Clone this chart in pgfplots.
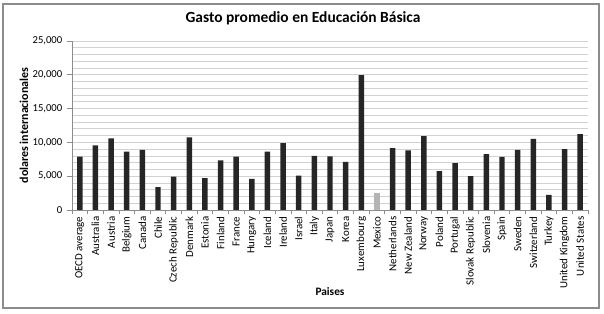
\documentclass[border=0pt]{standalone}
\usepackage{pgfplots}
\pgfplotsset{compat=1.18}
\usepackage{fontspec}
\setmainfont{Carlito}
\definecolor{barc}{HTML}{262626}
\definecolor{mex}{HTML}{B4B4B4}
\definecolor{gridc}{HTML}{D2D2D2}
\definecolor{framec}{HTML}{8C8C8C}
\definecolor{axc}{HTML}{8C8C8C}
\begin{document}
\begin{tikzpicture}
\useasboundingbox (-54pt,-78pt) rectangle (399pt,157.5pt);
\draw[framec, line width=1pt] (-51.75pt,-73.5pt) rectangle (395.25pt,154.5pt);
\begin{axis}[
  at={(0pt,0pt)}, anchor=south west,
  scale only axis, width=387pt, height=126.75pt,
  xmin=-0.5, xmax=32.5, ymin=0, ymax=25000,
  ybar, bar width=4.1pt,
  axis x line*=bottom, axis y line*=left,
  axis line style={draw=axc, line width=0.6pt},
  xtick={0,...,32},
  xticklabels={OECD average,Australia,Austria,Belgium,Canada,Chile,Czech Republic,Denmark,Estonia,Finland,France,Hungary,Iceland,Ireland,Israel,Italy,Japan,Korea,Luxembourg,Mexico,Netherlands,New Zealand,Norway,Poland,Portugal,Slovak Republic,Slovenia,Spain,Sweden,Switzerland,Turkey,United Kingdom,United States},
  minor xtick={-0.5,0.5,...,32.5},
  major x tick style={draw=none},
  minor x tick style={draw=axc, line width=0.5pt},
  ytick={0,5000,...,25000},
  minor ytick={1000,2000,...,24000},
  minor y tick style={draw=none},
  major y tick style={draw=axc, line width=0.5pt},
  tick align=outside,
  major tick length=3.75pt, minor tick length=3pt,
  ymajorgrids, yminorgrids,
  major grid style={draw=gridc, line width=0.6pt},
  minor grid style={draw=gridc, line width=0.6pt},
  scaled y ticks=false,
  /pgf/number format/fixed,
  /pgf/number format/1000 sep={,},
  /pgf/number format/assume math mode=true,
  tick label style={font=\fontsize{8}{9}\selectfont, black},
  xticklabel style={rotate=90, anchor=east, inner sep=1pt, font=\fontsize{8.2}{9}\selectfont},
  xlabel={}, ylabel={},
  clip=false,
]
\addplot[fill=barc, draw=none, bar shift=0pt] coordinates {
(0,7900) (1,9550) (2,10600) (3,8650) (4,8900) (5,3370) (6,4950) (7,10750)
(8,4700) (9,7330) (10,7900) (11,4600) (12,8650) (13,9900) (14,5100) (15,8000)
(16,7950) (17,7130) (18,19950) (20,9160) (21,8810) (22,10940) (23,5740)
(24,6930) (25,5000) (26,8270) (27,7870) (28,8910) (29,10540) (30,2230) (31,9010) (32,11240)
};
\addplot[fill=mex, draw=none, bar shift=0pt] coordinates {(19,2480)};
\end{axis}
\node[font=\fontsize{11.6}{13}\selectfont\bfseries] at (173.25pt,144pt) {Gasto promedio en Educación Básica};
\node[font=\fontsize{9}{10}\selectfont\bfseries, rotate=90] at (-36pt,63.4pt) {dolares internacionales};
\node[font=\fontsize{8.5}{9}\selectfont\bfseries] at (193.5pt,-61.5pt) {Paises};
\end{tikzpicture}
\end{document}
